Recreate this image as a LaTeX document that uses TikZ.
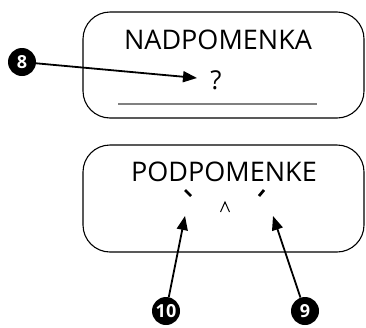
\documentclass[tikz,border=0pt]{standalone}
\usepackage{fontspec}
\setmainfont{Open Sans}
\usetikzlibrary{arrows.meta}
\begin{document}
\begin{tikzpicture}[x=1pt,y=-1pt,
  box/.style={draw,line width=1.1pt,rounded corners=27pt},
  num/.style={circle,fill=black,inner sep=0pt,minimum size=28pt,text=white,font=\bfseries\fontsize{18}{18}\selectfont},
  lbl/.style={font=\fontsize{27}{27}\selectfont,inner sep=0pt},
  arr/.style={line width=1.8pt,-{Triangle[length=14pt,width=11pt]}},
  accentmark/.style={line width=2.8pt}]
\useasboundingbox (0,0) rectangle (366,327);
\draw[box] (83,12) rectangle (364,118);
\draw[box] (83,145) rectangle (364,252);
\node[lbl] (nad) at (218,40) {NADPOMENKA};
\node[lbl,font=\fontsize{26}{26}\selectfont] (q) at (216,80) {?};
\draw[gray,line width=1.1pt] (118,104) -- (317,104);
\node[lbl] (pod) at (224,172) {PODPOMENKE};
\draw[accentmark] (185,190) -- (191,196);
\draw[accentmark] (264,190) -- (259,196);
\draw[line width=1pt] (220.5,212) -- (225,202) -- (229.5,212);
\node[num] (n8) at (22,62) {8};
\node[num] (n10) at (166,311) {10};
\node[num] (n9) at (305,311) {9};
\coordinate (t8) at (197,78);
\coordinate (t10) at (185,216);
\coordinate (t9) at (273,216);
\draw[arr] (n8) -- (t8);
\draw[arr] (n10) -- (t10);
\draw[arr] (n9) -- (t9);
\end{tikzpicture}
\end{document}
